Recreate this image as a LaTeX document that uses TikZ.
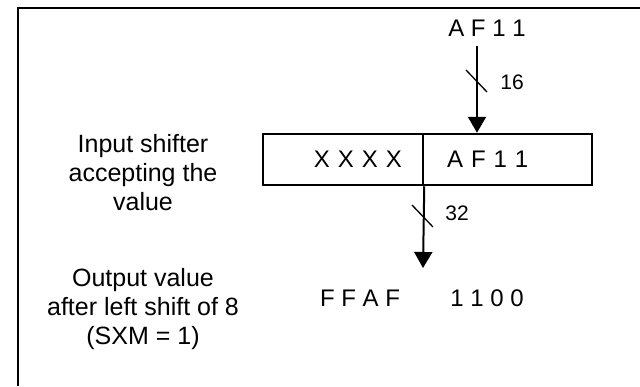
\documentclass[tikz,border=0pt]{standalone}
\usepackage{fontspec}
\setmainfont{Liberation Sans}
\usetikzlibrary{arrows.meta}
\begin{document}
\begin{tikzpicture}[
    x=1pt, y=-1pt,
    hexval/.style={font=\fontsize{24}{29}\selectfont, inner sep=0pt},
    note/.style={align=center, font=\fontsize{25}{29}\selectfont, inner sep=0pt},
    buswidth/.style={font=\fontsize{21}{25}\selectfont, inner sep=0pt},
    half/.style={hexval, draw, line width=2.5pt, minimum height=51pt, inner ysep=0pt},
    bus/.style={line width=2pt, -{Triangle[width=18pt,length=16pt]}},
    tick/.style={line width=1.3pt}]
  \useasboundingbox (0,0) rectangle (640,386);
  \draw[line width=2pt] (640,8) -| (18,386);
  \node[hexval] (src) at (487,28) {A F 1 1};
  \node[half, text width=118pt, align=right, inner xsep=21pt] (hi) at (343,159.5) {X X X X};
  \node[half, text width=121pt, align=left, inner xsep=24pt] (lo) at (507.5,159.5) {A F 1 1};
  \node[hexval] (outhi) at (360,298) {F F A F};
  \node[hexval] (outlo) at (487,298) {1 1 0 0};
  \coordinate (out) at (423,268);
  \node[note] (inlabel) at (143,173) {Input shifter\\accepting the\\value};
  \node[note] (outlabel) at (143,309) {Output value\\after left shift of 8\\(SXM = 1)};
  \draw[bus, shorten <=10pt] ([xshift=-10pt]src.south) -- ([xshift=-30.5pt]lo.north);
  \draw[bus] (hi.south east) -- (out);
  \coordinate (t16) at (477,81);
  \coordinate (t32) at (423,216);
  \draw[tick] (t16) +(-11,-11) -- +(10,11);
  \draw[tick] (t32) +(-11,-11) -- +(10,11);
  \node[buswidth] (w16) at (512,82) {16};
  \node[buswidth] (w32) at (457,213) {32};
\end{tikzpicture}
\end{document}
